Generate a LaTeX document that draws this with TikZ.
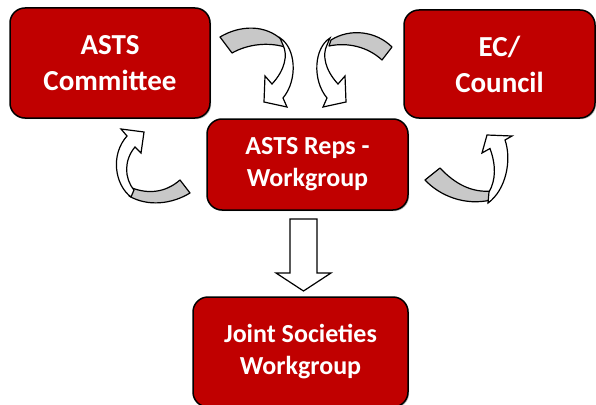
\documentclass[tikz,border=0pt]{standalone}
\usepackage{fontspec}
\setmainfont{Carlito}
\usetikzlibrary{shadows}
\definecolor{boxred}{HTML}{C00000}
\definecolor{backgray}{HTML}{C8C8C8}
\begin{document}
\begin{tikzpicture}[
        x=1pt, y=-1pt,
        box/.style={draw=black, line width=1.5pt, fill=boxred, rounded corners=15pt,
            text=white, align=center,
            drop shadow={shadow xshift=1.2pt, shadow yshift=-1.2pt, opacity=0.45}},
        big/.style={box, font=\fontsize{29}{36}\selectfont\bfseries},
        small/.style={box, font=\fontsize{26}{32}\selectfont\bfseries},
        back/.style={draw=black, line width=1.2pt, fill=backgray, line join=round},
        front/.style={draw=black, line width=1.2pt, fill=white, line join=miter},
    ]
    \useasboundingbox (0,0) rectangle (596,404);
    \node[big, minimum width=200pt, minimum height=110pt] (cmte) at (110,63) {ASTS\\Committee};
    \node[big, minimum width=191pt, minimum height=108pt] (ec) at (499.5,64) {EC/\\Council};
    \node[small, minimum width=201pt, minimum height=91pt] (reps) at (307.5,164.5) {ASTS Reps -\\Workgroup};
    \node[small, minimum width=215pt, minimum height=110pt] (joint) at (300.5,352) {Joint Societies\\Workgroup};

    % cmte to reps
    \draw[back] (220,37) .. controls (240,25) and (266,24) .. (283,41) -- (285,47)
        .. controls (268,42) and (248,44) .. (232,53) -- cycle;
    \draw[front] (280,38) .. controls (296,48) and (298,80) .. (283,98) -- (287,107) -- (264,102)
        -- (265,76) -- (272,84) .. controls (285,70) and (288,55) .. (283,45) -- cycle;

    % ec to reps
    \draw[back] (392,47) .. controls (376,31) and (350,28) .. (331,40) -- (329,46)
        .. controls (348,42) and (368,47) .. (382,60) -- cycle;
    \draw[front] (330,38) .. controls (314,48) and (312,80) .. (327,98) -- (323,107) -- (346,102)
        -- (345,76) -- (338,84) .. controls (325,70) and (322,55) .. (327,45) -- cycle;

    % reps to cmte
    \draw[back] (180,180) .. controls (165,193) and (148,194) .. (132,188) -- (129,196)
        .. controls (148,207) and (172,204) .. (190,193) -- cycle;
    \draw[front] (131,197) .. controls (115,185) and (110,155) .. (127,136) -- (121,129) -- (144,132)
        -- (141,153) -- (135,147) .. controls (124,160) and (124,178) .. (134,190) -- cycle;

    % reps to ec
    \draw[back] (425,180) .. controls (440,196) and (465,206) .. (491,200) -- (492,191)
        .. controls (472,193) and (455,184) .. (440,168) -- cycle;
    \draw[front] (488,203) .. controls (506,190) and (512,160) .. (505,140) -- (512,136) -- (487,135)
        -- (482,153) -- (490,148.5) .. controls (496,165) and (496,180) .. (489,192) -- cycle;

    % reps to joint
    \coordinate (down) at (303.5,219);
    \draw[front] (down) ++(-13.5,0) -- ++(27,0) -- ++(0,54) -- ++(14,0) -- ++(-27.5,18)
        -- ++(-27.5,-18) -- ++(14,0) -- cycle;
\end{tikzpicture}
\end{document}
